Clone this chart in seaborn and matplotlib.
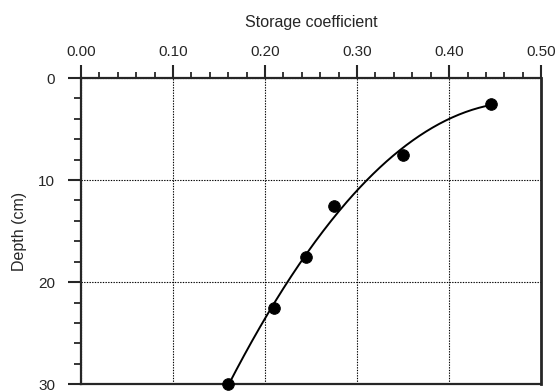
import numpy as np
import pandas as pd
import matplotlib
matplotlib.use('Agg')
import matplotlib.pyplot as plt
from matplotlib.ticker import MultipleLocator
import seaborn as sns

# measured points
depth = [2.5, 7.5, 12.5, 17.5, 22.5, 30.0]
storage = [0.445, 0.35, 0.275, 0.245, 0.21, 0.16]

x_ticks = [0.0, 0.1, 0.2, 0.3, 0.4, 0.5]
x_labels = ['0.00', '0.10', '0.20', '0.30', '0.40', '0.50']
y_ticks = [0, 10, 20, 30]

df = pd.DataFrame({'depth': depth, 'storage': storage})

# fitted curve, depth as quadratic of storage
coef = np.polyfit(df['storage'], df['depth'], 2)
s_fit = np.linspace(min(storage), max(storage), 200)
fit = pd.DataFrame({'storage': s_fit, 'depth': np.polyval(coef, s_fit)})

sns.set_style('ticks')
plt.rcParams['font.family'] = ['Liberation Sans', 'DejaVu Sans']

fig = plt.figure(figsize=(5.59, 3.92), dpi=100)
ax = fig.add_axes([0.145, 0.020, 0.823, 0.781])

sns.lineplot(data=fit, x='storage', y='depth', color='black', lw=1.4, ax=ax)
sns.scatterplot(data=df, x='storage', y='depth', color='black', s=70, edgecolor='black', zorder=5, ax=ax, clip_on=False)

ax.set_xlim(0, 0.5)
ax.set_ylim(30, 0)
ax.xaxis.tick_top()
ax.xaxis.set_label_position('top')
ax.set_xticks(x_ticks)
ax.set_xticklabels(x_labels)
ax.set_yticks(y_ticks)
ax.xaxis.set_minor_locator(MultipleLocator(0.02))
ax.yaxis.set_minor_locator(MultipleLocator(2))

ax.grid(True, which='major', color='black', linestyle=(0, (1.2, 1.2)), lw=0.8)

ax.tick_params(axis='x', which='major', direction='out', length=9.5, width=1.5, pad=4, labelsize=11)
ax.tick_params(axis='x', which='minor', direction='out', length=4.5, width=1.3)
ax.tick_params(axis='y', which='major', direction='out', length=9.5, width=1.5, pad=9, labelsize=11)
ax.tick_params(axis='y', which='minor', direction='out', length=5, width=1.3)

for side in ['top', 'left', 'bottom']:
    ax.spines[side].set_linewidth(1.6)
ax.spines['right'].set_linewidth(2.0)

ax.set_xlabel('Storage coefficient', fontsize=11.5, labelpad=13)
ax.set_ylabel('Depth (cm)', fontsize=11.5, labelpad=8)

plt.savefig('out.png', dpi=100)
